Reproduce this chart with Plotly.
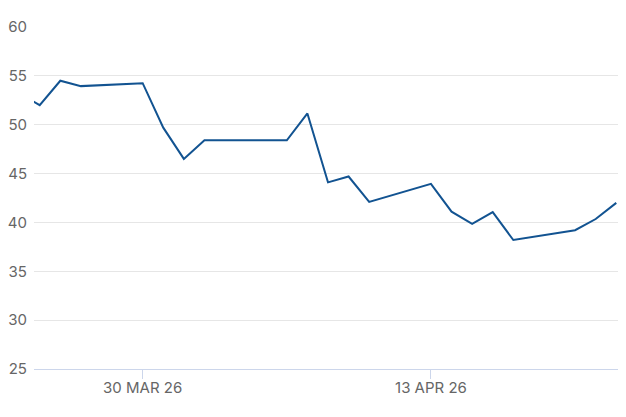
import plotly.graph_objects as go

dates = ["2026-03-24", "2026-03-25", "2026-03-26", "2026-03-27", "2026-03-30",
         "2026-03-31", "2026-04-01", "2026-04-02", "2026-04-06", "2026-04-07",
         "2026-04-08", "2026-04-09", "2026-04-10", "2026-04-13", "2026-04-14",
         "2026-04-15", "2026-04-16", "2026-04-17", "2026-04-20", "2026-04-21",
         "2026-04-22"]
values = [53.2, 52.0, 54.5, 53.95, 54.25,
          49.7, 46.5, 48.4, 48.4, 51.15,
          44.1, 44.7, 42.1, 43.95, 41.1,
          39.85, 41.05, 38.2, 39.2, 40.35,
          42.0]

x_tick_vals = ["2026-03-30", "2026-04-13"]
x_tick_text = ["30 MAR 26", "13 APR 26"]
y_tick_vals = [25, 30, 35, 40, 45, 50, 55, 60]

fig = go.Figure(go.Scatter(
    x=dates, y=values, mode="lines",
    line=dict(color="#125391", width=2),
    hoverinfo="skip",
))

fig.update_layout(
    width=618, height=409,
    margin=dict(l=24, r=0, t=19, b=48),
    paper_bgcolor="white", plot_bgcolor="white",
    font=dict(family="Inter, Arial, sans-serif", size=15, color="#666666"),
    showlegend=False,
)
fig.update_xaxes(
    type="date",
    range=["2026-03-24 17:20", "2026-04-22 11:20"],
    tickvals=x_tick_vals, ticktext=x_tick_text,
    ticks="outside", ticklen=9, tickcolor="#ccd6eb", tickwidth=1,
    showline=True, linecolor="#ccd6eb", linewidth=1,
    showgrid=False, zeroline=False,
    ticklabelstandoff=-4,
)
fig.update_yaxes(
    range=[25, 60], tickvals=y_tick_vals,
    showgrid=True, gridcolor="#e6e6e6", gridwidth=1,
    zeroline=False, showline=False,
    ticks="", ticklabelstandoff=6,
)

fig.write_html("out.html")
